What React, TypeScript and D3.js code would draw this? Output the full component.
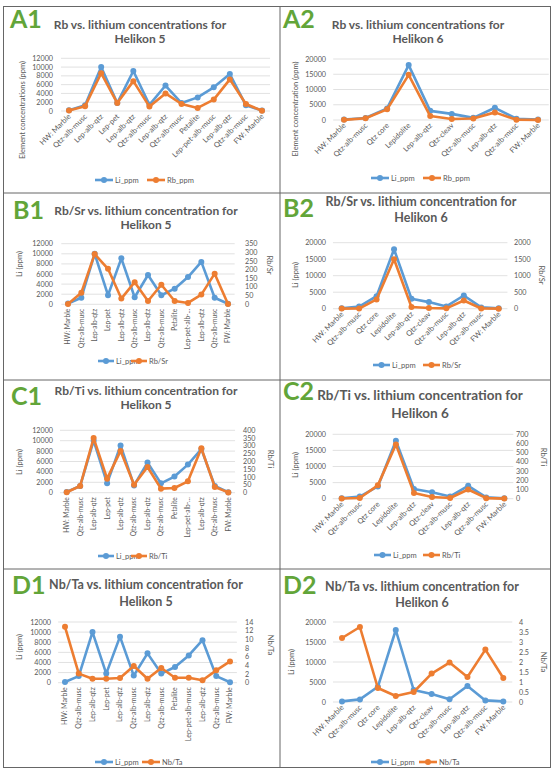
import * as d3 from "d3";

// Helikon 5 profile (HW -> FW)
const H5_CATS = [
  "HW: Marble", "Qtz-alb-musc", "Lep-alb-qtz", "Lep-pet", "Lep-alb-qtz", "Qtz-alb-musc",
  "Lep-alb-qtz", "Qtz-alb-musc", "Petalite", "Lep-pet-alb-musc", "Lep-alb-qtz", "Qtz-alb-musc", "FW: Marble",
];
const H5_LI = [150, 1300, 10000, 1800, 9100, 1400, 5800, 1800, 3100, 5400, 8400, 1300, 100];
const H5_RB = [100, 1100, 8600, 1800, 6800, 1000, 4000, 1600, 700, 2600, 7200, 1600, 50];
const H5_RBSR = [2, 67, 290, 205, 33, 128, 19, 113, 19, 8, 56, 177, 2];
const H5_RBTI = [3, 43, 350, 90, 268, 51, 165, 26, 30, 73, 285, 36, 2];
const H5_NBTA = [12.9, 2.1, 0.9, 0.9, 1.1, 3.85, 0.9, 3.4, 1.15, 1.15, 0.55, 2.85, 4.9];

// Helikon 6 profile
const H6_CATS = [
  "HW: Marble", "Qtz-alb-musc", "Qtz core", "Lepidolite", "Lep-alb-qtz", "Qtz-cleav",
  "Qtz-alb-musc", "Lep-alb-qtz", "Qtz-alb-musc", "FW: Marble",
];
const H6_LI = [150, 650, 3800, 18000, 3000, 2000, 700, 4000, 400, 150];
const H6_RB = [50, 550, 3500, 14800, 1300, 350, 500, 2500, 80, 30];
const H6_RBSR = [3, 5, 280, 1500, 50, 20, 10, 250, 5, 2];
const H6_RBTI = [2, 8, 145, 590, 62, 18, 8, 100, 6, 1];
const H6_NBTA = [3.2, 3.75, 0.7, 0.3, 0.5, 1.42, 1.97, 1.25, 2.62, 1.2];

const BLUE = "#5b9bd5";
const ORANGE = "#ed7d31";
const GREEN = "#62a539";
const TXT = "#595959";
const FONT = "Lato, 'Open Sans', sans-serif";

type Cfg = {
  label: string; lx: number; ly: number;
  title: string[]; tx: number; ty: number[]; ts: number;
  cats: string[]; li: number[]; sec: number[]; secName: string;
  leftMax: number; leftStep: number; rightMax?: number; rightStep?: number;
  x0: number; x1: number; yb: number; yt: number;
  leftX: number; rightX?: number; rot: number; trunc?: number; cs: number;
  legY: number; legX: number[]; legLen: number;
  yTitle: string; ytx: number; yty: number; rtx?: number; rty?: number;
};

const panels: Cfg[] = [
  {
    label: "A1", lx: 10, ly: 28, title: ["Rb vs. lithium concentrations for", "Helikon 5"], tx: 140, ty: [29, 43], ts: 12,
    cats: H5_CATS, li: H5_LI, sec: H5_RB, secName: "Rb_ppm", leftMax: 12000, leftStep: 2000,
    x0: 69, x1: 262, yb: 111, yt: 58.3, leftX: 53, rot: 45, cs: 7.5,
    legY: 180, legX: [95, 147], legLen: 18, yTitle: "Element concentrations (ppm)", ytx: 25, yty: 110,
  },
  {
    label: "A2", lx: 283, ly: 28, title: ["Rb vs. lithium concentrations for", "Helikon 6"], tx: 418, ty: [29, 43], ts: 12,
    cats: H6_CATS, li: H6_LI, sec: H6_RB, secName: "Rb_ppm", leftMax: 20000, leftStep: 5000,
    x0: 344, x1: 538, yb: 120, yt: 59, leftX: 326, rot: 45, cs: 7.5,
    legY: 178, legX: [371, 423], legLen: 18, yTitle: "Element concentration (ppm)", ytx: 298, yty: 109,
  },
  {
    label: "B1", lx: 13, ly: 219, title: ["Rb/Sr vs. lithium concentration for", "Helikon 5"], tx: 146, ty: [215, 229], ts: 12,
    cats: H5_CATS, li: H5_LI, sec: H5_RBSR, secName: "Rb/Sr", leftMax: 12000, leftStep: 2000, rightMax: 350, rightStep: 50,
    x0: 68, x1: 228, yb: 304.3, yt: 243.7, leftX: 53, rightX: 245, rot: 90, trunc: 13, cs: 6.6,
    legY: 361, legX: [98, 131], legLen: 16, yTitle: "Li (ppm)", ytx: 22, yty: 264, rtx: 267, rty: 265,
  },
  {
    label: "B2", lx: 283, ly: 217, title: ["Rb/Sr vs. lithium concentration for", "Helikon 6"], tx: 421, ty: [206, 222], ts: 12.5,
    cats: H6_CATS, li: H6_LI, sec: H6_RBSR, secName: "Rb/Sr", leftMax: 20000, leftStep: 5000, rightMax: 2000, rightStep: 500,
    x0: 341.7, x1: 498.7, yb: 308.7, yt: 242.7, leftX: 326, rightX: 514, rot: 45, cs: 7.5,
    legY: 365, legX: [373, 423], legLen: 17, yTitle: "Li (ppm)", ytx: 298, yty: 275, rtx: 539, rty: 275,
  },
  {
    label: "C1", lx: 11, ly: 405, title: ["Rb/Ti vs. lithium concentration for", "Helikon 5"], tx: 146, ty: [395, 409], ts: 12,
    cats: H5_CATS, li: H5_LI, sec: H5_RBTI, secName: "Rb/Ti", leftMax: 12000, leftStep: 2000, rightMax: 400, rightStep: 50,
    x0: 66.7, x1: 228.3, yb: 492.7, yt: 430.3, leftX: 53, rightX: 243, rot: 90, trunc: 13, cs: 6.6,
    legY: 556, legX: [98, 131], legLen: 16, yTitle: "Li (ppm)", ytx: 22, yty: 462, rtx: 268, rty: 459,
  },
  {
    label: "C2", lx: 283, ly: 400, title: ["Rb/Ti vs. lithium concentration for", "Helikon  6"], tx: 420, ty: [400, 418], ts: 13.5,
    cats: H6_CATS, li: H6_LI, sec: H6_RBTI, secName: "Rb/Ti", leftMax: 20000, leftStep: 5000, rightMax: 700, rightStep: 100,
    x0: 341.7, x1: 504.3, yb: 498.7, yt: 434.3, leftX: 326, rightX: 516, rot: 45, cs: 7.5,
    legY: 555, legX: [374, 423], legLen: 17, yTitle: "Li (ppm)", ytx: 298, yty: 465, rtx: 541, rty: 457,
  },
  {
    label: "D1", lx: 12, ly: 594, title: ["Nb/Ta vs. lithium concentration for", "Helikon 5"], tx: 146, ty: [589, 606], ts: 12.5,
    cats: H5_CATS, li: H5_LI, sec: H5_NBTA, secName: "Nb/Ta", leftMax: 12000, leftStep: 2000, rightMax: 14, rightStep: 2,
    x0: 65, x1: 230, yb: 682.7, yt: 622, leftX: 51, rightX: 245, rot: 90, cs: 7,
    legY: 762, legX: [95, 142], legLen: 18, yTitle: "Li (ppm)", ytx: 22, yty: 647, rtx: 268, rty: 645,
  },
  {
    label: "D2", lx: 283, ly: 594, title: ["Nb/Ta vs. lithium concentration for", "Helikon 6"], tx: 422, ty: [591, 607], ts: 12.5,
    cats: H6_CATS, li: H6_LI, sec: H6_NBTA, secName: "Nb/Ta", leftMax: 20000, leftStep: 5000, rightMax: 4, rightStep: 0.5,
    x0: 342, x1: 503.3, yb: 702, yt: 622, leftX: 326, rightX: 519, rot: 45, cs: 7.5,
    legY: 762, legX: [371, 419], legLen: 18, yTitle: "Li (ppm)", ytx: 294, yty: 662, rtx: 541, rty: 662,
  },
];

const fmt = (v: number) => String(+v.toFixed(2));

function Panel({ c }: { c: Cfg }) {
  const idx = d3.range(c.cats.length);
  const x = d3.scalePoint<number>().domain(idx).range([c.x0, c.x1]);
  const step = x.step();
  const yL = d3.scaleLinear().domain([0, c.leftMax]).range([c.yb, c.yt]);
  const yR = c.rightMax ? d3.scaleLinear().domain([0, c.rightMax]).range([c.yb, c.yt]) : yL;
  const leftTicks = d3.range(0, c.leftMax + 1e-9, c.leftStep);
  const rightTicks = c.rightMax ? d3.range(0, c.rightMax + 1e-9, c.rightStep!) : [];
  const mk = (s: d3.ScaleLinear<number, number>) =>
    d3.line<number>().x((_, i) => x(i)!).y((d) => s(d))!;
  const lbl = (s: string) => (c.trunc && s.length > c.trunc ? s.slice(0, 12) + "..." : s);
  const series = [
    { name: "Li_ppm", vals: c.li, sc: yL, col: BLUE },
    { name: c.secName, vals: c.sec, sc: yR, col: ORANGE },
  ];
  const off = c.rot === 90 ? 4.5 : 6;

  return (
    <g fontFamily={FONT}>
      <text x={c.lx} y={c.ly} fontSize={25} fontWeight={700} fill={GREEN}>{c.label}</text>
      {c.title.map((t, i) => (
        <text key={i} x={c.tx} y={c.ty[i]} textAnchor="middle" fontSize={c.ts} fontWeight={700} fill={TXT}>{t}</text>
      ))}
      {leftTicks.map((t) => (
        <g key={t}>
          <line x1={c.x0 - step / 2} x2={c.x1 + step / 2} y1={yL(t)} y2={yL(t)} stroke="#d9d9d9" strokeWidth={0.8} />
          <text x={c.leftX} y={yL(t) + 2.5} textAnchor="end" fontSize={7.2} fill={TXT}>{t}</text>
        </g>
      ))}
      {rightTicks.map((t) => (
        <text key={t} x={c.rightX} y={yR(t) + 2.5} fontSize={7.2} fill={TXT}>{fmt(t)}</text>
      ))}
      {idx.map((i) => (
        <text key={i} fontSize={c.cs} fill={TXT} textAnchor="end"
          transform={`translate(${x(i)! + 2.4},${c.yb + off}) rotate(${-c.rot})`}>
          {lbl(c.cats[i])}
        </text>
      ))}
      {series.map((s) => (
        <g key={s.name}>
          <path d={mk(s.sc)(s.vals)!} fill="none" stroke={s.col} strokeWidth={2.6} strokeLinejoin="round" />
          {s.vals.map((v, i) => (
            <circle key={i} cx={x(i)} cy={s.sc(v)} r={3} fill={s.col} />
          ))}
        </g>
      ))}
      <text transform={`translate(${c.ytx},${c.yty}) rotate(-90)`} textAnchor="middle" fontSize={7.5} fill={TXT}>{c.yTitle}</text>
      {c.rtx !== undefined && (
        <text transform={`translate(${c.rtx},${c.rty}) rotate(90)`} textAnchor="middle" fontSize={7.5} fill={TXT}>{c.secName}</text>
      )}
      {series.map((s, k) => (
        <g key={s.name}>
          <line x1={c.legX[k]} x2={c.legX[k] + c.legLen} y1={c.legY} y2={c.legY} stroke={s.col} strokeWidth={2.6} />
          <circle cx={c.legX[k] + c.legLen / 2} cy={c.legY} r={3} fill={s.col} />
          <text x={c.legX[k] + c.legLen + 2} y={c.legY + 2.6} fontSize={7.5} fill={TXT}>{s.name}</text>
        </g>
      ))}
    </g>
  );
}

export default function App() {
  const W = 552, H = 769;
  return (
    <svg width={W} height={H} style={{ position: "absolute", left: 0, top: 0, background: "#fff" }}>
      <rect width={W} height={H} fill="#fff" />
      <g stroke="#666" strokeWidth={1} fill="none">
        <rect x={3.5} y={6.5} width={547} height={761} />
        <line x1={280} x2={280} y1={6.5} y2={767.5} />
        {[193, 380, 569].map((y) => (
          <line key={y} x1={3.5} x2={550.5} y1={y} y2={y} />
        ))}
      </g>
      {panels.map((c) => (
        <Panel key={c.label} c={c} />
      ))}
    </svg>
  );
}
